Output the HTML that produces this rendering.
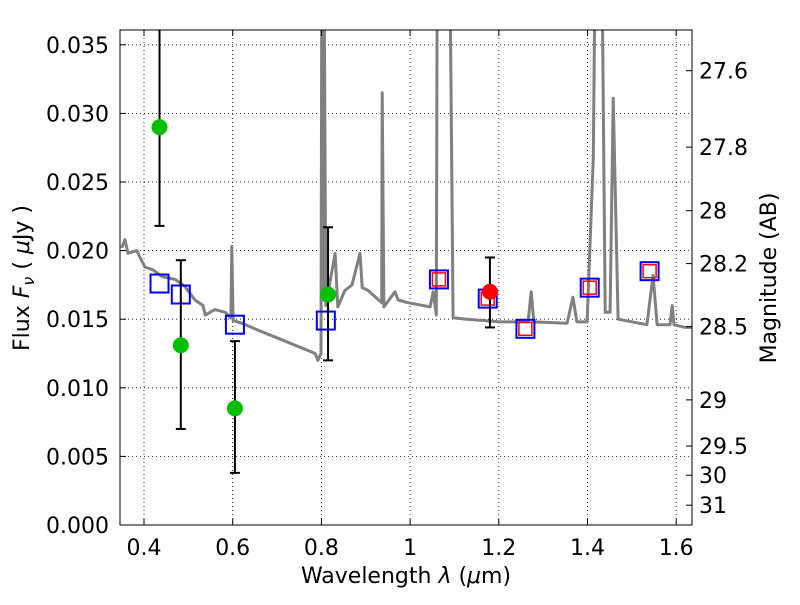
<!DOCTYPE html>
<html><head><meta charset="utf-8"><style>
body{margin:0;background:#fff}
text{font-family:"DejaVu Sans","Liberation Sans",sans-serif;fill:#000}
</style></head><body>
<svg id="chart" width="800" height="600" xmlns="http://www.w3.org/2000/svg"></svg>
<script>
const xTicks=[0.4,0.6,0.8,1.0,1.2,1.4,1.6];
const xTickLabels=["0.4","0.6","0.8","1","1.2","1.4","1.6"];
const yTicks=[0,0.005,0.010,0.015,0.020,0.025,0.030,0.035];
const yTickLabels=["0.000","0.005","0.010","0.015","0.020","0.025","0.030","0.035"];
const magTicks=[27.6,27.8,28,28.2,28.5,29,29.5,30,31];
const magTickLabels=["27.6","27.8","28","28.2","28.5","29","29.5","30","31"];
const specWave=[0.350,0.357,0.364,0.384,0.391,0.402,0.420,0.441,0.470,0.492,0.515,0.533,0.538,0.560,0.583,0.596,0.598,0.601,0.621,0.657,0.711,0.756,0.786,0.792,0.799,0.801,0.804,0.806,0.810,0.831,0.837,0.853,0.869,0.887,0.892,0.905,0.936,0.937,0.941,0.966,0.973,0.995,1.045,1.052,1.059,1.061,1.090,1.097,1.128,1.203,1.266,1.273,1.279,1.354,1.367,1.376,1.399,1.413,1.417,1.433,1.440,1.451,1.458,1.469,1.534,1.548,1.557,1.586,1.591,1.595,1.620,1.638];
const specFlux=[0.0202,0.0208,0.0198,0.0200,0.0195,0.0188,0.0186,0.0181,0.0179,0.0174,0.0164,0.0160,0.0153,0.0157,0.0155,0.0151,0.0203,0.0149,0.0147,0.0142,0.0135,0.0129,0.0125,0.0120,0.0125,0.0400,0.0164,0.0400,0.0160,0.0198,0.0159,0.0171,0.0175,0.0198,0.0173,0.0171,0.0162,0.0315,0.0159,0.0170,0.0164,0.0162,0.0159,0.0170,0.0153,0.0400,0.0400,0.0151,0.0150,0.0148,0.0148,0.0170,0.0148,0.0147,0.0166,0.0148,0.0148,0.0268,0.0400,0.0400,0.0155,0.0155,0.0311,0.0150,0.0146,0.0182,0.0146,0.0146,0.0160,0.0146,0.0144,0.0144];
const greenWave=[0.435,0.483,0.605,0.815];
const greenFlux=[0.0290,0.0131,0.0085,0.0168];
const greenLo=[0.0218,0.0070,0.0038,0.0120];
const greenHi=[0.0400,0.0193,0.0134,0.0217];
const redWave=[1.18];
const redFlux=[0.0170];
const redLo=[0.0144];
const redHi=[0.0195];
const modelWave=[0.435,0.483,0.605,0.81,1.065,1.175,1.26,1.405,1.54];
const modelFlux=[0.0176,0.0168,0.0146,0.0149,0.0179,0.0165,0.0143,0.0173,0.0185];
const redBoxWave=[1.065,1.175,1.26,1.405,1.54];
const redBoxFlux=[0.0179,0.0165,0.0143,0.0173,0.0185];

const L=120,R=692,T=30,B=525;
const X=v=>144+(v-0.4)/0.2*88.7;
const Y=v=>525-v*13720;
const magY=m=>Y(Math.pow(10,(23.9-m)/2.5));
const NS="http://www.w3.org/2000/svg";
const svg=document.getElementById('chart');
function mk(tag,attrs,parent){const e=document.createElementNS(NS,tag);for(const k in attrs)e.setAttribute(k,attrs[k]);(parent||svg).appendChild(e);return e;}
const defs=mk('defs',{});
const cp=mk('clipPath',{id:'clip'},defs);mk('rect',{x:L,y:T,width:R-L,height:B-T},cp);
const grid=mk('g',{});


xTicks.forEach(v=>{mk('line',{x1:X(v),x2:X(v),y1:T,y2:B,stroke:'#000','stroke-width':0.8,'stroke-dasharray':'1,3'},grid);});
yTicks.forEach(v=>{mk('line',{x1:L,x2:R,y1:Y(v),y2:Y(v),stroke:'#000','stroke-width':0.8,'stroke-dasharray':'1,3'},grid);});
const plot=mk('g',{'clip-path':'url(#clip)'});
let d='';specWave.forEach((w,i)=>{d+=(i?'L':'M')+X(w).toFixed(1)+','+Y(specFlux[i]).toFixed(1);});
const sp=mk('path',{d:d,fill:'none',stroke:'#808080','stroke-width':3,'stroke-linejoin':'round'},plot);


function err(w,lo,hi,name){const g=mk('g',{},plot);


mk('line',{x1:X(w),x2:X(w),y1:Y(lo),y2:Y(hi),stroke:'#000','stroke-width':2},g);
mk('line',{x1:X(w)-5,x2:X(w)+5,y1:Y(lo),y2:Y(lo),stroke:'#000','stroke-width':2},g);
mk('line',{x1:X(w)-5,x2:X(w)+5,y1:Y(hi),y2:Y(hi),stroke:'#000','stroke-width':2},g);}
redBoxWave.forEach((w,i)=>{const r=mk('rect',{x:X(w)-6.5,y:Y(redBoxFlux[i])-6.5,width:13,height:13,fill:'none',stroke:'#f00','stroke-width':1.5},plot);

});
modelWave.forEach((w,i)=>{const r=mk('rect',{x:X(w)-9,y:Y(modelFlux[i])-9,width:18,height:18,fill:'none',stroke:'#00f','stroke-width':2},plot);

});
greenWave.forEach((w,i)=>{err(w,greenLo[i],greenHi[i],'green-errorbar');
const c=mk('circle',{cx:X(w),cy:Y(greenFlux[i]),r:8,fill:'#00c000'},plot);

});
redWave.forEach((w,i)=>{err(w,redLo[i],redHi[i],'red-errorbar');
const c=mk('circle',{cx:X(w),cy:Y(redFlux[i]),r:8,fill:'#f00'},plot);

});
const ax=mk('g',{});


mk('rect',{x:L,y:T,width:R-L,height:B-T,fill:'none',stroke:'#000','stroke-width':1},ax);
xTicks.forEach((v,i)=>{const x=X(v);
mk('line',{x1:x,x2:x,y1:B,y2:B-6,stroke:'#000'},ax);mk('line',{x1:x,x2:x,y1:T,y2:T+6,stroke:'#000'},ax);
const t=mk('text',{x:x,y:555,'text-anchor':'middle','font-size':22},ax);t.textContent=xTickLabels[i];

});
yTicks.forEach((v,i)=>{const y=Y(v);
mk('line',{x1:L,x2:L+6,y1:y,y2:y,stroke:'#000'},ax);
const t=mk('text',{x:109,y:y+8,'text-anchor':'end','font-size':22},ax);t.textContent=yTickLabels[i];

});
magTicks.forEach((m,i)=>{const y=magY(m);
mk('line',{x1:R,x2:R-6,y1:y,y2:y,stroke:'#000'},ax);
const t=mk('text',{x:699,y:y+8,'text-anchor':'start','font-size':22},ax);t.textContent=magTickLabels[i];

});
</script>
<svg style="position:absolute;left:0;top:0" width="800" height="600" xmlns="http://www.w3.org/2000/svg">
<text x="406" y="583" text-anchor="middle" font-size="22">Wavelength  <tspan font-style="italic">λ</tspan> (<tspan font-style="italic">μ</tspan>m)</text>
<text transform="translate(29,278) rotate(-90)" text-anchor="middle" font-size="22">Flux  <tspan font-style="italic">F</tspan><tspan font-style="italic" font-size="16" dy="5">ν</tspan><tspan dy="-5">   ( </tspan><tspan font-style="italic">μ</tspan>Jy )</text>
<text transform="translate(776,278) rotate(-90)" text-anchor="middle" font-size="22">Magnitude (AB)</text>
</svg>
</body></html>
